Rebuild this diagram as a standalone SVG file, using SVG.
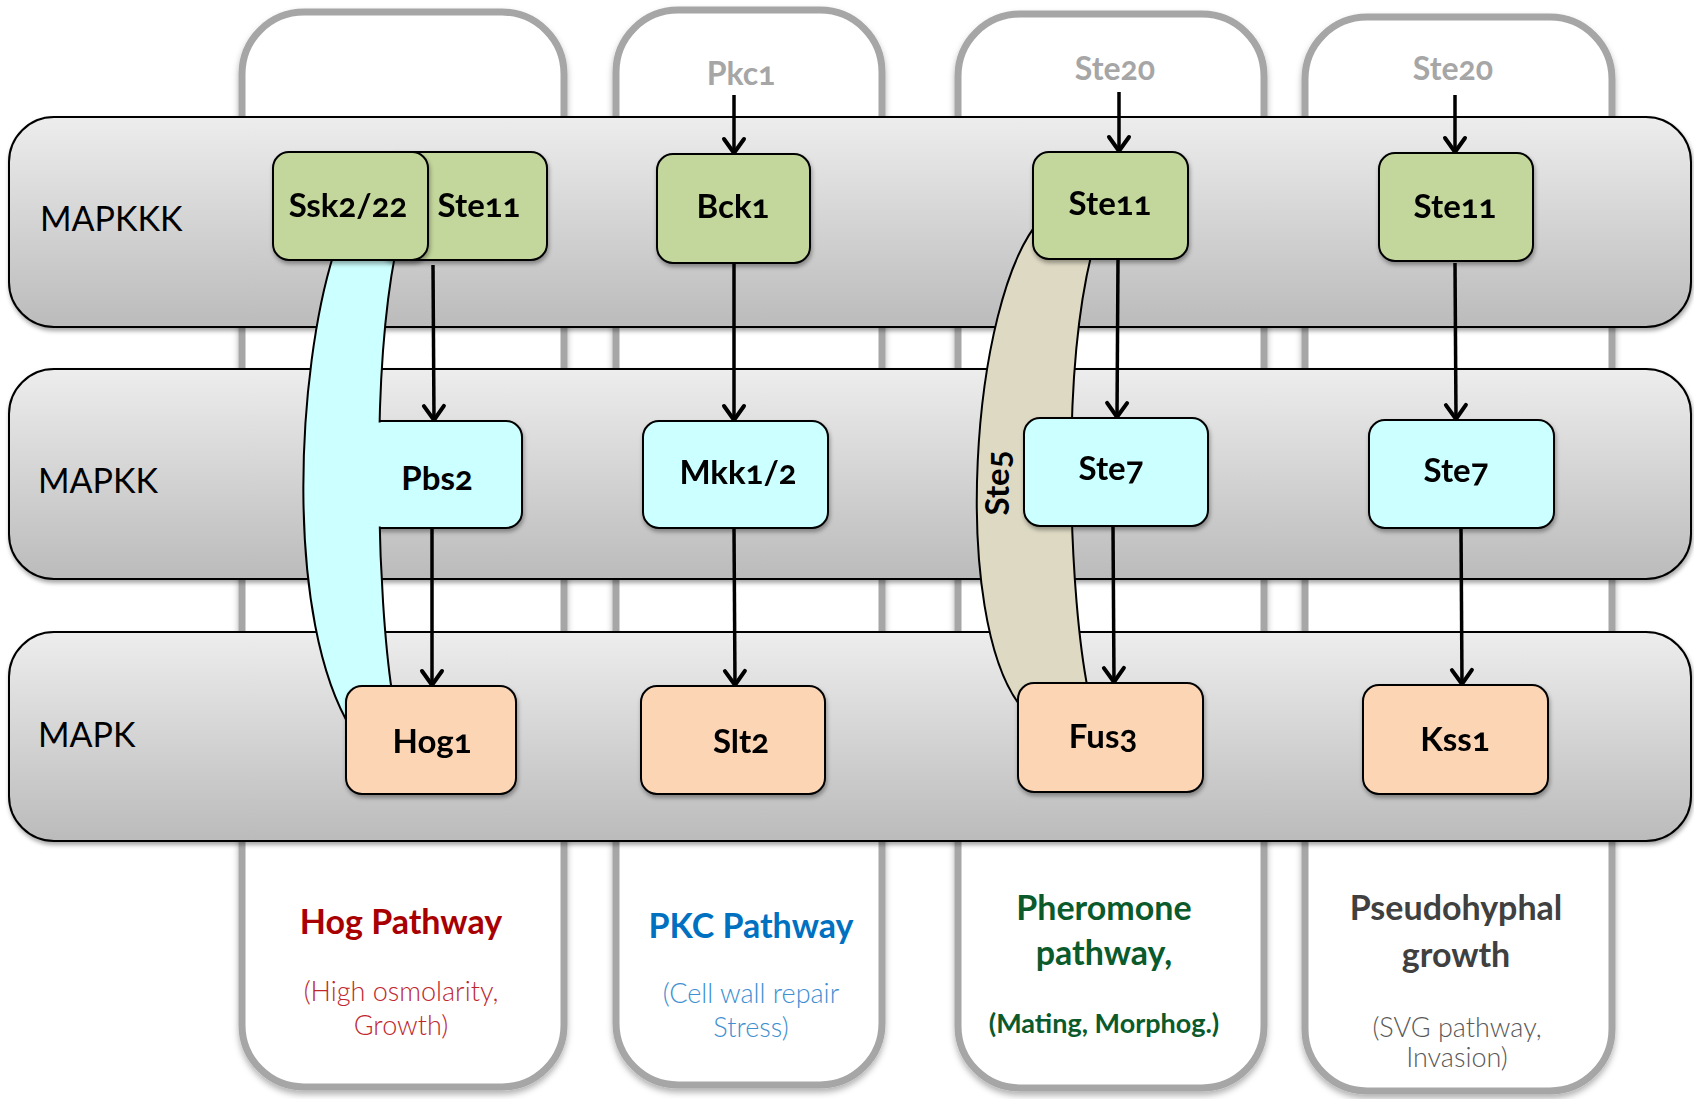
<svg xmlns="http://www.w3.org/2000/svg" width="1694" height="1099" viewBox="0 0 1694 1099">
  <defs>
    <linearGradient id="bandFill" x1="0" y1="0" x2="0" y2="1">
      <stop offset="0" stop-color="#ededed"/>
      <stop offset="1" stop-color="#bbbbbb"/>
    </linearGradient>
    <filter id="shadow" x="-10%" y="-10%" width="120%" height="130%">
      <feDropShadow dx="1" dy="3" stdDeviation="2" flood-color="#000" flood-opacity="0.35"/>
    </filter>
    <filter id="colShadow" x="-10%" y="-5%" width="120%" height="110%">
      <feDropShadow dx="0" dy="4" stdDeviation="3" flood-color="#000" flood-opacity="0.3"/>
    </filter>
    <marker id="arrow" markerUnits="userSpaceOnUse" viewBox="-20 -14 24 28" markerWidth="24" markerHeight="28" refX="0" refY="0" orient="auto">
      <path d="M -14 -10 L 0 0 L -14 10" fill="none" stroke="#000" stroke-width="4" stroke-linecap="round" stroke-linejoin="round"/>
    </marker>
  </defs>
  <style>
    text { font-family: Lato, "Open Sans", "Liberation Sans", sans-serif; font-variant-numeric: oldstyle-nums; font-feature-settings: "onum" 1; }
    .col { fill: #fff; stroke: #a6a6a6; stroke-width: 7; }
    .band { fill: url(#bandFill); stroke: #000; stroke-width: 2; }
    .rowlabel { font-size: 34px; fill: #000; }
    .node rect { stroke: #000; stroke-width: 2; }
    .kkk rect { fill: #c3d69b; }
    .kk rect { fill: #ccffff; }
    .k rect { fill: #fcd5b5; }
    .node text, .lbl { font-size: 33px; font-weight: 700; fill: #000; text-anchor: middle; }
    .up { font-size: 32px; font-weight: 700; fill: #a6a6a6; text-anchor: middle; }
    .conn { stroke: #000; stroke-width: 3.5; fill: none; }
    .title { font-size: 34px; font-weight: 700; text-anchor: middle; }
    .sub { font-size: 27px; font-weight: 300; text-anchor: middle; }
  </style>

  <!-- pathway columns -->
  <g id="columns" filter="url(#colShadow)">
    <rect id="col-hog" class="col" x="242" y="12" width="322" height="1075" rx="62"/>
    <rect id="col-pkc" class="col" x="616" y="10" width="266" height="1075" rx="62"/>
    <rect id="col-pheromone" class="col" x="958" y="14" width="306" height="1074" rx="62"/>
    <rect id="col-svg" class="col" x="1305" y="17" width="307" height="1074" rx="62"/>
  </g>

  <!-- kinase tier bands -->
  <g id="bands" filter="url(#shadow)">
    <g id="band-mapkkk"><rect class="band" x="9" y="117" width="1682" height="210" rx="45"/></g>
    <g id="band-mapkk"><rect class="band" x="9" y="369" width="1682" height="210" rx="45"/></g>
    <g id="band-mapk"><rect class="band" x="9" y="632" width="1682" height="209" rx="45"/></g>
  </g>
  <text class="rowlabel" x="40" y="231">MAPKKK</text>
  <text class="rowlabel" x="38" y="493">MAPKK</text>
  <text class="rowlabel" x="38" y="747">MAPK</text>

  <!-- upstream activators -->
  <text class="up" x="741" y="85">Pkc1</text>
  <text class="up" x="1115" y="80">Ste20</text>
  <text class="up" x="1453" y="80">Ste20</text>

  <!-- Pbs2 sits under the Ssk2/22 scaffold arm -->
  <g id="node-pbs2" class="node kk" filter="url(#shadow)">
    <rect x="350" y="421" width="172" height="107" rx="16"/>
  </g>

  <!-- scaffold arms -->
  <g id="scaffold-hog">
    <path d="M 335 250 C 296 370 284 620 352 730 L 392 692 C 378 600 370 380 396 250 Z" fill="#ccffff" stroke="#000" stroke-width="2"/>
    <rect x="368" y="422.5" width="20" height="104" fill="#ccffff"/>
    <text class="lbl" x="437" y="490">Pbs2</text>
  </g>
  <g id="scaffold-ste5">
    <path d="M 1040 220 C 970 300 950 620 1022 708 L 1088 690 C 1070 600 1060 380 1092 252 Z" fill="#ddd9c3" stroke="#000" stroke-width="2"/>
    <text class="lbl" transform="translate(1009 483) rotate(-90)">Ste5</text>
  </g>

  <!-- connectors -->
  <g id="connectors">
    <line class="conn" x1="734" y1="95" x2="734" y2="153" marker-end="url(#arrow)"/>
    <line class="conn" x1="1119" y1="92" x2="1119" y2="151" marker-end="url(#arrow)"/>
    <line class="conn" x1="1455" y1="95" x2="1455" y2="152" marker-end="url(#arrow)"/>

    <line class="conn" x1="433" y1="265" x2="434" y2="420" marker-end="url(#arrow)"/>
    <line class="conn" x1="432" y1="528" x2="432" y2="685" marker-end="url(#arrow)"/>

    <line class="conn" x1="734" y1="263" x2="734" y2="420" marker-end="url(#arrow)"/>
    <line class="conn" x1="734" y1="528" x2="735" y2="685" marker-end="url(#arrow)"/>

    <line class="conn" x1="1118" y1="259" x2="1117" y2="417" marker-end="url(#arrow)"/>
    <line class="conn" x1="1113" y1="526" x2="1114" y2="682" marker-end="url(#arrow)"/>

    <line class="conn" x1="1455" y1="263" x2="1456" y2="419" marker-end="url(#arrow)"/>
    <line class="conn" x1="1461" y1="528" x2="1462" y2="684" marker-end="url(#arrow)"/>
  </g>

  <!-- MAPKKK nodes -->
  <g id="node-ste11-hog" class="node kkk" filter="url(#shadow)">
    <rect x="380" y="152" width="167" height="108" rx="16"/>
    <text x="479" y="217">Ste11</text>
  </g>
  <g id="node-ssk2-22" class="node kkk" filter="url(#shadow)">
    <rect x="273" y="152" width="155" height="108" rx="16"/>
    <text x="348" y="217">Ssk2/22</text>
  </g>
  <g id="node-bck1" class="node kkk" filter="url(#shadow)">
    <rect x="657" y="154" width="153" height="109" rx="16"/>
    <text x="733" y="218">Bck1</text>
  </g>
  <g id="node-ste11-pher" class="node kkk" filter="url(#shadow)">
    <rect x="1033" y="152" width="155" height="107" rx="16"/>
    <text x="1110" y="215">Ste11</text>
  </g>
  <g id="node-ste11-svg" class="node kkk" filter="url(#shadow)">
    <rect x="1379" y="153" width="154" height="108" rx="16"/>
    <text x="1455" y="218">Ste11</text>
  </g>

  <!-- MAPKK nodes -->
  <g id="node-mkk1-2" class="node kk" filter="url(#shadow)">
    <rect x="643" y="421" width="185" height="107" rx="16"/>
    <text x="738" y="484">Mkk1/2</text>
  </g>
  <g id="node-ste7-pher" class="node kk" filter="url(#shadow)">
    <rect x="1024" y="418" width="184" height="108" rx="16"/>
    <text x="1111" y="480">Ste7</text>
  </g>
  <g id="node-ste7-svg" class="node kk" filter="url(#shadow)">
    <rect x="1369" y="420" width="185" height="108" rx="16"/>
    <text x="1456" y="482">Ste7</text>
  </g>

  <!-- MAPK nodes -->
  <g id="node-hog1" class="node k" filter="url(#shadow)">
    <rect x="346" y="686" width="170" height="108" rx="16"/>
    <text x="432" y="753">Hog1</text>
  </g>
  <g id="node-slt2" class="node k" filter="url(#shadow)">
    <rect x="641" y="686" width="184" height="108" rx="16"/>
    <text x="741" y="753">Slt2</text>
  </g>
  <g id="node-fus3" class="node k" filter="url(#shadow)">
    <rect x="1018" y="683" width="185" height="109" rx="16"/>
    <text x="1103" y="748">Fus3</text>
  </g>
  <g id="node-kss1" class="node k" filter="url(#shadow)">
    <rect x="1363" y="685" width="185" height="109" rx="16"/>
    <text x="1455" y="751">Kss1</text>
  </g>

  <!-- pathway captions -->
  <g id="caption-hog">
    <text class="title" x="401" y="934" fill="#a80000">Hog Pathway</text>
    <text class="sub" x="401" y="1001" fill="#c0272d">(High osmolarity,</text>
    <text class="sub" x="401" y="1035" fill="#c0272d">Growth)</text>
  </g>
  <g id="caption-pkc">
    <text class="title" x="751" y="938" fill="#0070c0">PKC Pathway</text>
    <text class="sub" x="751" y="1003" fill="#3d8fd1">(Cell wall repair</text>
    <text class="sub" x="751" y="1037" fill="#3d8fd1">Stress)</text>
  </g>
  <g id="caption-pheromone">
    <text class="title" x="1104" y="920" fill="#0a5a2c">Pheromone</text>
    <text class="title" x="1104" y="965" fill="#0a5a2c">pathway,</text>
    <text class="sub" x="1104" y="1033" fill="#0a5a2c" style="font-weight:700">(Mating, Morphog.)</text>
  </g>
  <g id="caption-svg">
    <text class="title" x="1456" y="920" fill="#404040">Pseudohyphal</text>
    <text class="title" x="1456" y="967" fill="#404040">growth</text>
    <text class="sub" x="1457" y="1037" fill="#595959">(SVG pathway,</text>
    <text class="sub" x="1457" y="1067" fill="#595959">Invasion)</text>
  </g>
</svg>
